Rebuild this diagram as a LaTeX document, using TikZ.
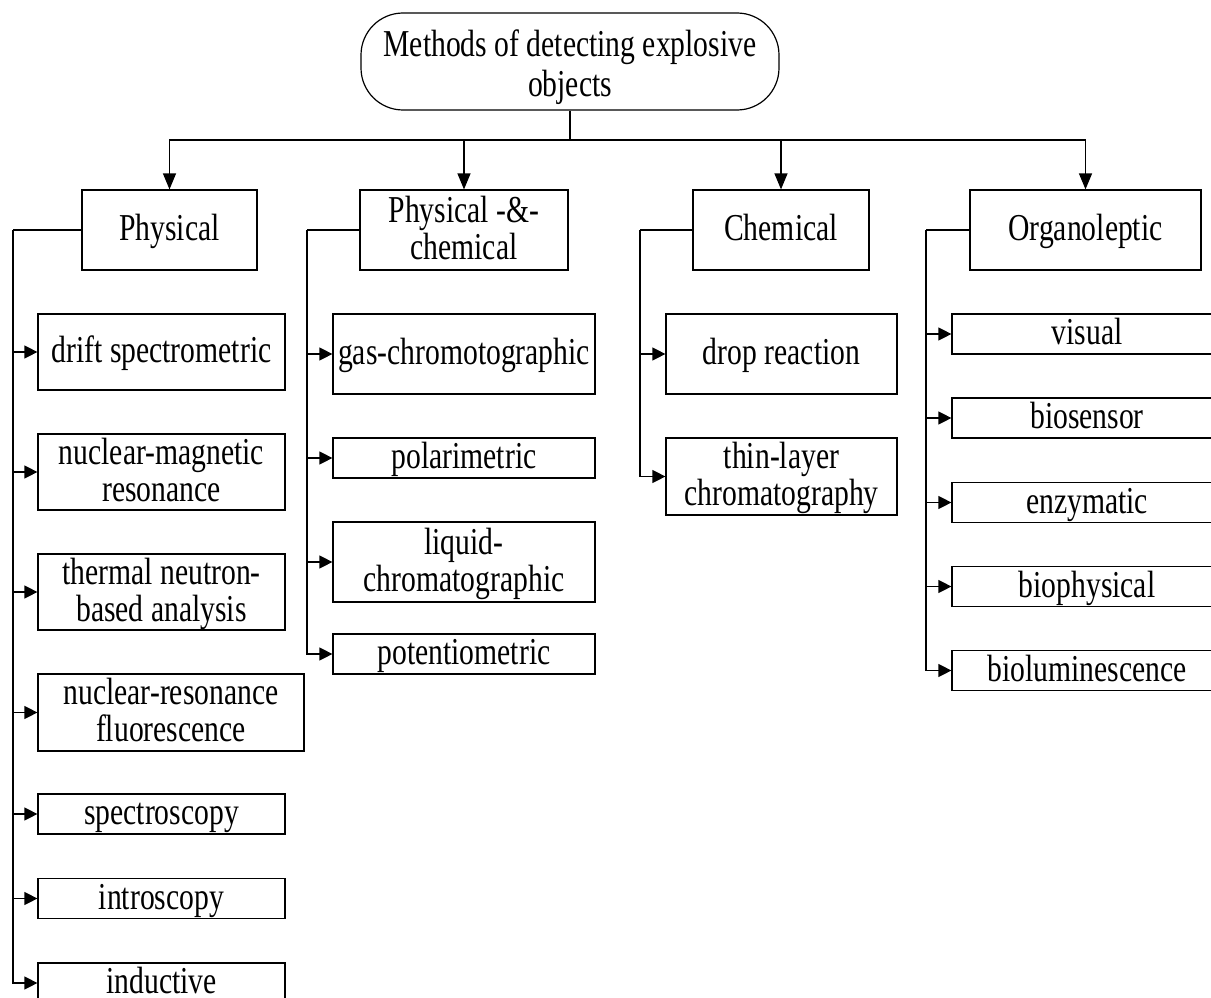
\documentclass[tikz,border=0pt]{standalone}
\usepackage{fontspec}
\setmainfont{Liberation Serif}[FakeStretch=0.78]
\usetikzlibrary{arrows.meta}
\begin{document}
\begin{tikzpicture}[x=1pt,y=-1pt,
  box/.style={draw, line width=1.2pt, inner sep=0pt, align=center, font=\fontsize{38}{37}\selectfont},
  one/.style={box, text height=27pt, text depth=6pt},
  two/.style={box, text height=64pt, text depth=6pt},
  ln/.style={line width=1.2pt},
  arr/.style={ln, -{Triangle[length=13pt,width=13pt]}},
  tarr/.style={ln, -{Triangle[length=16pt,width=13pt]}}]
\useasboundingbox (0,0) rectangle (1211,998);

% root
\node[box, font=\fontsize{38}{40}\selectfont, text height=80pt, text depth=11pt, rounded corners=42pt, minimum width=418pt, minimum height=97pt] (root) at (570,61.5) {Methods of detecting explosive\\objects};
\coordinate (hub) at (570,140);

% categories
\node[one, minimum width=175pt, minimum height=80pt] (phys) at (169.5,230) {Physical};
\node[two, minimum width=208pt, minimum height=80pt] (pc) at (464,230) {Physical -\&-\\chemical};
\node[one, minimum width=176pt, minimum height=80pt] (chem) at (781,230) {Chemical};
\node[one, minimum width=231pt, minimum height=80pt] (org) at (1085.5,230) {Organoleptic};

\draw[ln] (root.south) -- (hub);
\draw[tarr] (hub) -| (phys.north);
\draw[tarr] (hub) -| (pc.north);
\draw[tarr] (hub) -| (chem.north);
\draw[tarr] (hub) -| (org.north);

% trunk points
\coordinate (tphys) at (13,230);
\coordinate (tpc) at (307,230);
\coordinate (tchem) at (640,230);
\coordinate (torg) at (926,230);
\draw[ln] (phys.west) -- (tphys);
\draw[ln] (pc.west) -- (tpc);
\draw[ln] (chem.west) -- (tchem);
\draw[ln] (org.west) -- (torg);

% Physical children
\node[one, minimum width=247pt, minimum height=76pt] (p1) at (161.5,352) {drift spectrometric};
\node[two, minimum width=247pt, minimum height=76pt] (p2) at (161.5,472) {nuclear-magnetic\\resonance};
\node[two, minimum width=247pt, minimum height=76pt] (p3) at (161.5,592) {thermal neutron-\\based analysis};
\node[two, minimum width=266pt, minimum height=77pt] (p4) at (171,712.5) {nuclear-resonance\\fluorescence};
\node[one, minimum width=247pt, minimum height=40pt] (p5) at (161.5,814) {spectroscopy};
\node[one, minimum width=247pt, minimum height=40pt] (p6) at (161.5,898.5) {introscopy};
\node[one, minimum width=247pt, minimum height=40pt] (p7) at (161.5,983) {inductive};
\foreach \n in {p1,p2,p3,p4,p5,p6,p7} \draw[arr] (tphys) |- (\n.west);

% Physical-&-chemical children
\node[one, minimum width=262pt, minimum height=80pt] (c1) at (464,354) {gas-chromotographic};
\node[one, minimum width=262pt, minimum height=40pt] (c2) at (464,458) {polarimetric};
\node[two, minimum width=262pt, minimum height=80pt] (c3) at (464,562) {liquid-\\chromatographic};
\node[one, minimum width=262pt, minimum height=40pt] (c4) at (464,654) {potentiometric};
\foreach \n in {c1,c2,c3,c4} \draw[arr] (tpc) |- (\n.west);

% Chemical children
\node[one, minimum width=231pt, minimum height=80pt] (h1) at (781.5,354) {drop reaction};
\node[two, minimum width=231pt, minimum height=77pt] (h2) at (781.5,476.5) {thin-layer\\chromatography};
\foreach \n in {h1,h2} \draw[arr] (tchem) |- (\n.west);

% Organoleptic children
\node[one, minimum width=270pt, minimum height=40pt] (o1) at (1087,334) {visual};
\node[one, minimum width=270pt, minimum height=40pt] (o2) at (1087,418) {biosensor};
\node[one, minimum width=270pt, minimum height=40pt] (o3) at (1087,502.5) {enzymatic};
\node[one, minimum width=270pt, minimum height=40pt] (o4) at (1087,586.5) {biophysical};
\node[one, minimum width=270pt, minimum height=40pt] (o5) at (1087,670.5) {bioluminescence};
\foreach \n in {o1,o2,o3,o4,o5} \draw[arr] (torg) |- (\n.west);
\end{tikzpicture}
\end{document}
